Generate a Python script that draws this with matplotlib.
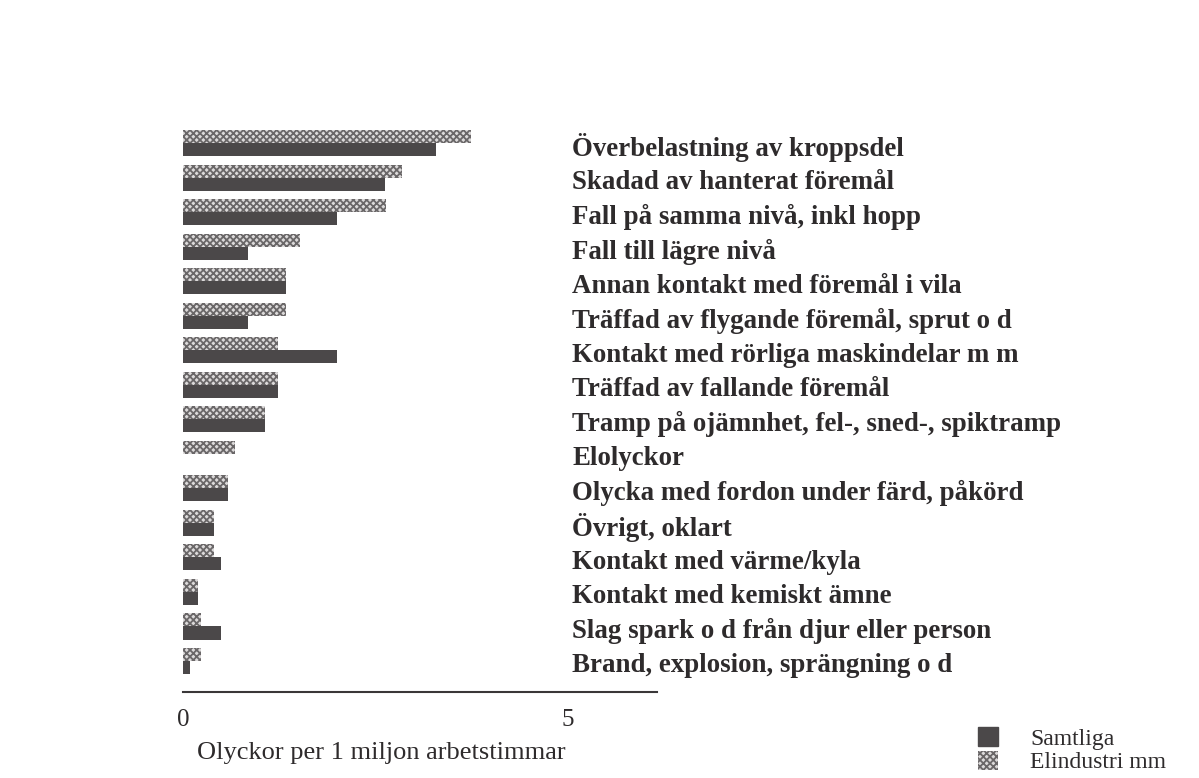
import numpy as np
import matplotlib.pyplot as plt
from matplotlib.patches import Patch

categories = [
    "Överbelastning av kroppsdel",
    "Skadad av hanterat föremål",
    "Fall på samma nivå, inkl hopp",
    "Fall till lägre nivå",
    "Annan kontakt med föremål i vila",
    "Träffad av flygande föremål, sprut o d",
    "Kontakt med rörliga maskindelar m m",
    "Träffad av fallande föremål",
    "Tramp på ojämnhet, fel-, sned-, spiktramp",
    "Elolyckor",
    "Olycka med fordon under färd, påkörd",
    "Övrigt, oklart",
    "Kontakt med värme/kyla",
    "Kontakt med kemiskt ämne",
    "Slag spark o d från djur eller person",
    "Brand, explosion, sprängning o d",
]
samtliga = [3.29, 2.63, 2.0, 0.85, 1.34, 0.85, 2.0, 1.23, 1.07, 0.0,
            0.58, 0.40, 0.50, 0.19, 0.50, 0.09]
elindustri = [3.74, 2.84, 2.64, 1.52, 1.34, 1.34, 1.23, 1.23, 1.07, 0.68,
              0.58, 0.40, 0.40, 0.19, 0.24, 0.24]
xticks = [0, 5]
xlabel = "Olyckor per 1 miljon arbetstimmar"

W, H = 1199, 778
plt.rcParams['hatch.linewidth'] = 1.3
fig = plt.figure(figsize=(W / 100, H / 100), dpi=100)
ax = fig.add_axes([183 / W, 1 - 692 / H, (657 - 183) / W, (692 - 120) / H])

dark = "#4b4849"
light = "#dcdada"
hatchc = "#6a6768"
txt = "#2e2b2c"
serif = "Liberation Serif"

y = np.arange(len(categories))
bh = 0.38
ax.barh(y - bh / 2, elindustri, height=bh, color=light, edgecolor=hatchc,
        hatch="xxxxx", linewidth=0)
ax.barh(y + bh / 2, samtliga, height=bh, color=dark, linewidth=0)

for i, lab in enumerate(categories):
    ax.text(5.06, i + 0.14, lab, va="center", ha="left", fontsize=19.4,
            fontweight="bold", family=serif, color=txt)

ax.set_xlim(0, 6.16)
ax.set_ylim(len(categories) - 0.1, -0.67)
ax.set_xticks(xticks)
ax.set_xticklabels([str(t) for t in xticks], family=serif, fontsize=18, color=txt)
ax.tick_params(axis="x", length=0, pad=12)
ax.set_yticks([])
for s in ["left", "right", "top"]:
    ax.spines[s].set_visible(False)
ax.spines["bottom"].set_color("#3a3738")
ax.spines["bottom"].set_linewidth(1.5)
ax.set_xlabel(xlabel, family=serif, fontsize=19, color=txt, labelpad=8, x=0.418)

handles = [Patch(facecolor=dark, edgecolor=dark),
           Patch(facecolor=light, edgecolor=hatchc, hatch="xxxxx", linewidth=0)]
fig.legend(handles, ["Samtliga", "Elindustri mm"], loc="lower left",
           bbox_to_anchor=(978 / W, 0.006), frameon=False, borderpad=0,
           borderaxespad=0, prop={"family": serif, "size": 17},
           handlelength=0.85, handleheight=0.85, handletextpad=1.35,
           labelspacing=0.05, labelcolor=txt)

fig.savefig("out.png", dpi=100, facecolor="white")
